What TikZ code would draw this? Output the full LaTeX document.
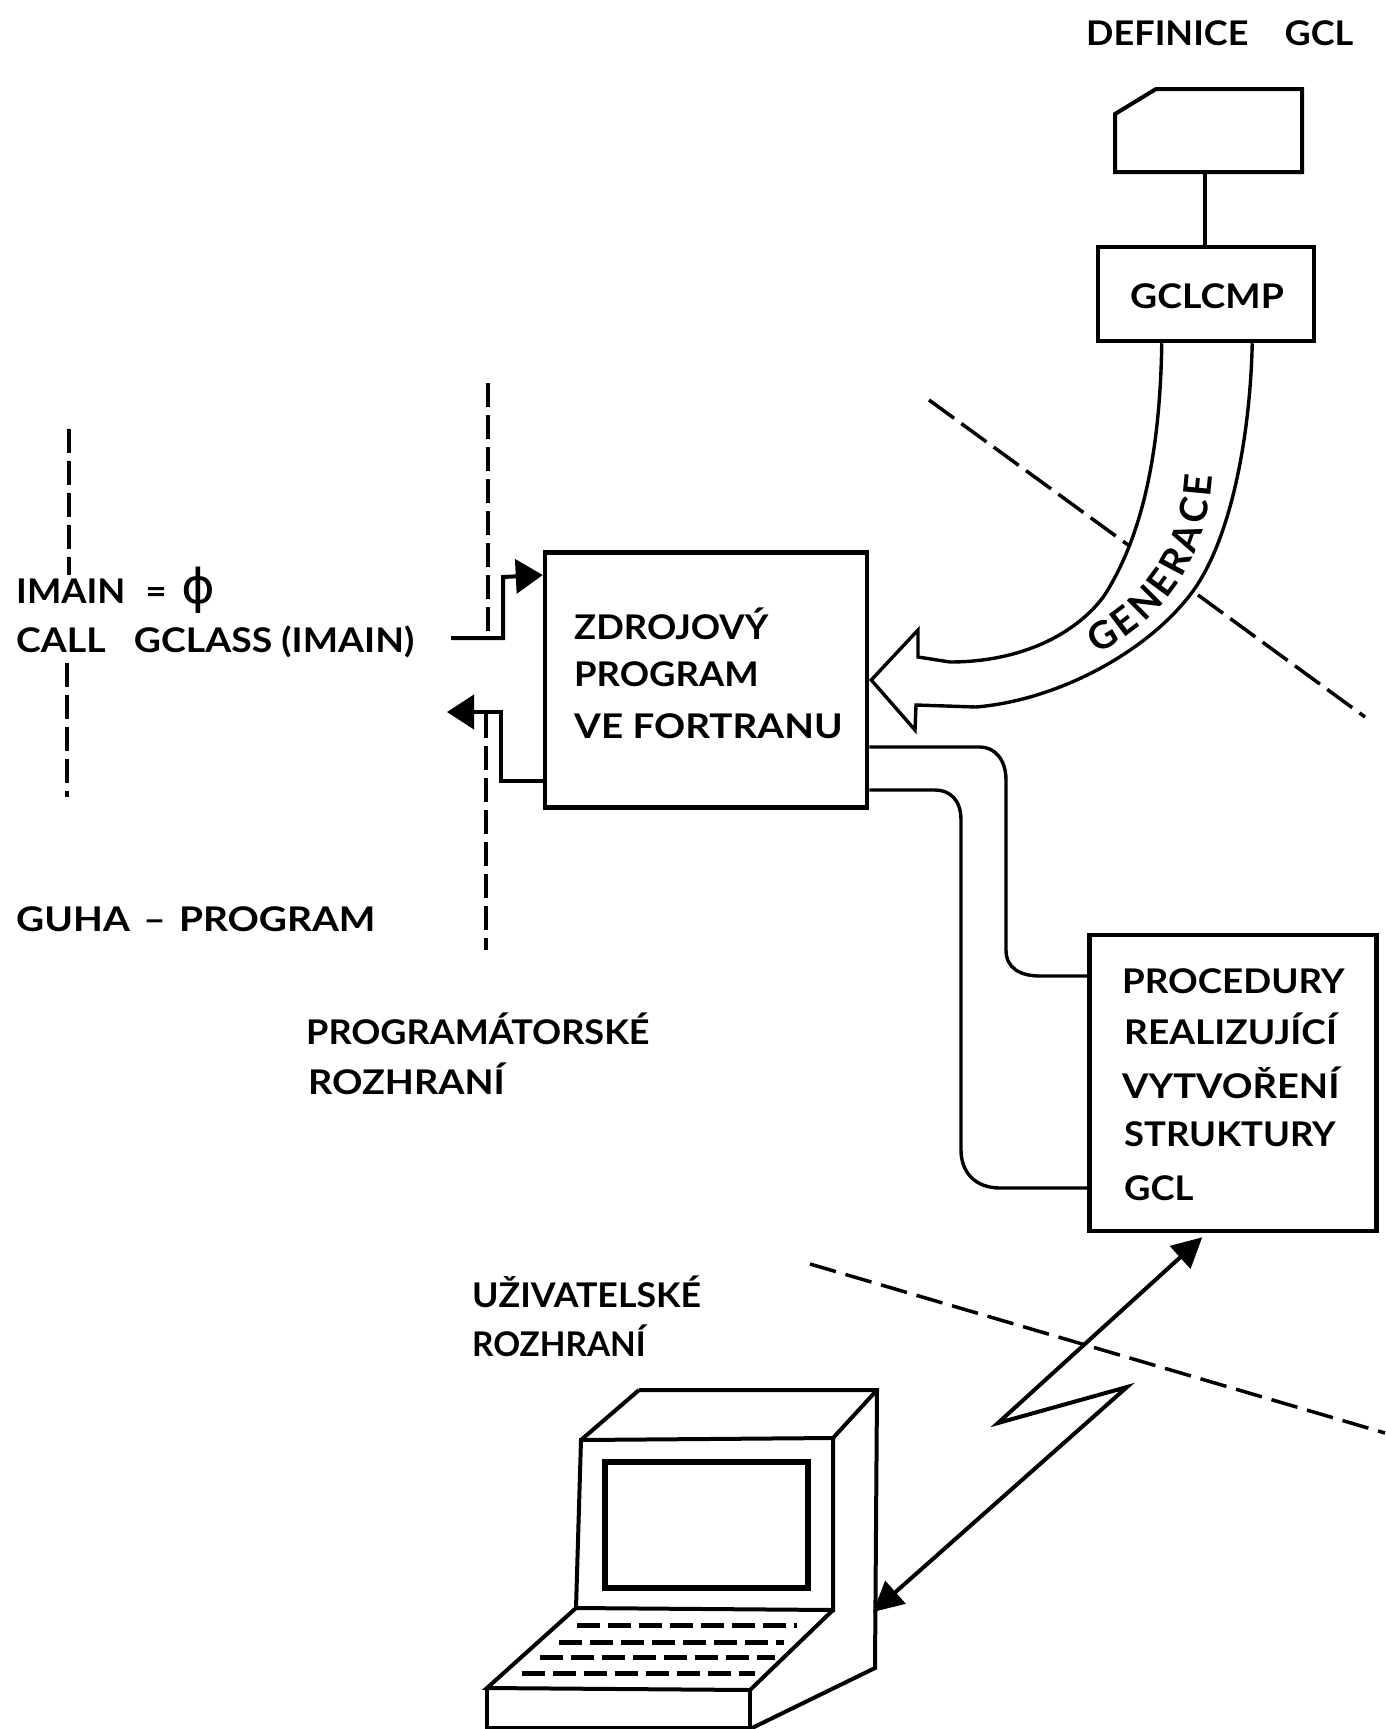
\documentclass[tikz,border=0pt]{standalone}
\usepackage{fontspec}
\setmainfont{Lato}[BoldFont={Lato Bold}]
\newfontfamily\symfont{DejaVu Sans}
\usetikzlibrary{arrows.meta,decorations.text,calc}
\newcommand{\lblfont}{\fontsize{34}{34}\selectfont\bfseries}
\newcommand{\genfont}{\fontsize{38}{38}\selectfont\bfseries}
\tikzset{
  x=1pt,y=-1pt,
  line/.style={line width=4pt,black,line join=miter},
  thin line/.style={line width=3.4pt,black},
  boxnode/.style={draw,line width=4.5pt,black,inner sep=0pt,fill=white},
  lbl/.style={anchor=west,inner sep=0pt,font=\lblfont,xscale=#1,transform shape},
  vdash/.style={line width=4.5pt,black,dash pattern=on 24pt off 8pt},
  ddash/.style={line width=3.5pt,black,dash pattern=on 31pt off 9pt},
  ldash/.style={line width=3.5pt,black,dash pattern=on 27pt off 10pt},
  keyrow/.style={line width=5pt,black,dash pattern=on 23pt off 8pt},
  head/.style={-{Triangle[length=27pt,width=34pt]}},
  bihead/.style={{Triangle[length=30pt,width=30pt]}-{Triangle[length=30pt,width=30pt]}},
}
\begin{document}
\begin{tikzpicture}
\useasboundingbox[fill=white] (0,0) rectangle (1385,1729);
% boxes
\node[boxnode,minimum width=216pt,minimum height=94pt] (gcl) at (1206,294) {};
\node[boxnode,minimum width=322pt,minimum height=255pt] (zdroj) at (706,680) {};
\node[boxnode,minimum width=287pt,minimum height=296pt] (proc) at (1233,1083) {};
% card
\draw[line,fill=white] (1115,114) -- (1156,89) -- (1302,89) -- (1302,172) -- (1115,172) -- cycle;
\coordinate (cardb) at (1205,172);
\draw[line] (cardb) -- (cardb |- gcl.north);
% dashed boundaries
\draw[ddash] (929,400) -- (1135,550);
\draw[ddash] (1198,595) -- (1365,717);
\draw[ldash] (810,1264) -- (1385,1433);
\draw[vdash] (69,429) -- (69,575);
\draw[vdash] (67,663) -- (67,797);
\draw[vdash] (488,383) -- (488,634);
\draw[vdash] (486,714) -- (486,950);
% generation arrow
\draw[thin line,fill=white,line join=miter]
  ($(gcl.south west)+(66,0)$) .. controls (1160,460) and (1140,540) .. (1104,596)
  .. controls (1075,635) and (1020,662) .. (950,662) -- (918,657) -- (918,630)
  -- ($(zdroj.east)+(2,0)$) -- (915,730) -- (916,705) -- (976,707)
  .. controls (1060,700) and (1150,650) .. (1193,591)
  .. controls (1230,540) and (1250,440) .. ($(gcl.south east)+(-64,0)$);
\path[decorate,decoration={text along path,text align={fit to path},
  text={|\genfont|GENERACE}}]
  (1097,654) .. controls (1162,620) and (1207,565) .. (1212,476);
% in/out arrows
\coordinate (inbeg) at (451,638);
\coordinate (outend) at (447,712);
\draw[line,head] (inbeg) -- (503,638) -- (503,577) -- ($(zdroj.west)+(0,-105)$);
\draw[line,head] ($(zdroj.west)+(0,101)$) -- (501,781) -- (501,712) -- (outend);
% band to procedures
\draw[thin line] ($(zdroj.east)+(0,67)$) -- (980,747) .. controls (995,747) and (1006,760) .. (1006,780)
  -- (1006,950) .. controls (1006,968) and (1020,976) .. (1040,976) -- ($(proc.west)+(0,-107)$);
\draw[thin line] ($(zdroj.east)+(0,110)$) -- (935,790) .. controls (950,790) and (961,800) .. (961,820)
  -- (961,1150) .. controls (961,1172) and (975,1188) .. (1000,1188) -- ($(proc.west)+(0,105)$);
% labels
\node[lbl=1.06] (tdef) at (1086,33) {DEFINICE\hspace{1em}GCL};
\node[lbl=1.10] (tcmp) at (1130,296) {GCLCMP};
\node[lbl=1.07] (t1) at (574,624) {ZDROJOVÝ};
\node[lbl=1.07] (t2) at (574,674) {PROGRAM};
\node[lbl=1.135] (t3) at (574,726) {VE FORTRANU};
\node[lbl=1.08] (p1) at (1122,981) {PROCEDURY};
\node[lbl=1.09] (p2) at (1124,1029) {REALIZUJÍCÍ};
\node[lbl=1.12] (p3) at (1122,1083) {VYTVOŘENÍ};
\node[lbl=1.07] (p4) at (1124,1134) {STRUKTURY};
\node[lbl=1.07] (p5) at (1124,1188) {GCL};
\node[lbl=1.07] (imain) at (16,590) {IMAIN\hspace{0.55em}=\hspace{0.4em}{\mdseries\symfont\fontsize{48}{48}\selectfont\char"03D5}};
\node[lbl=1.10] (call) at (16,642) {CALL\hspace{0.75em}GCLASS (IMAIN)};
\node[lbl=1.14] (guha) at (16,919) {GUHA\hspace{0.1em} – \hspace{0.1em}PROGRAM};
\node[lbl=1.06] (pr1) at (306,1029) {PROGRAMÁTORSKÉ};
\node[lbl=1.11] (pr2) at (308,1079) {ROZHRANÍ};
\node[lbl=1.05] (u1) at (472,1292) {UŽIVATELSKÉ};
\node[lbl=0.98] (u2) at (472,1341) {ROZHRANÍ};
% terminal
\draw[line] (639,1390) -- (877,1390) -- (875,1668) -- (752,1728);
\draw[line] (581,1440) -- (639,1390);
\draw[line] (833,1438) -- (877,1390);
\draw[line] (581,1440) -- (833,1438) -- (833,1610) -- (576,1608) -- cycle;
\draw[line,line width=5.5pt] (605,1462) rectangle (808,1588);
\draw[line] (576,1608) -- (487,1688) -- (750,1690) -- (833,1610);
\draw[line] (487,1688) -- (487,1731) (750,1690) -- (750,1731);
\draw[thin line] (487,1727.5) -- (750,1727.5);
\draw[keyrow] (577,1625) -- (797,1625);
\draw[keyrow] (559,1642) -- (784,1642);
\draw[keyrow] (540,1657) -- (775,1657);
\draw[keyrow] (522,1673) -- (755,1673);
% lightning link
\coordinate (termport) at (873,1612);
\draw[line,bihead,line join=miter] ($(proc.south west)+(115,4)$) -- (998,1423) -- (1127,1387) -- (termport);
\end{tikzpicture}
\end{document}
